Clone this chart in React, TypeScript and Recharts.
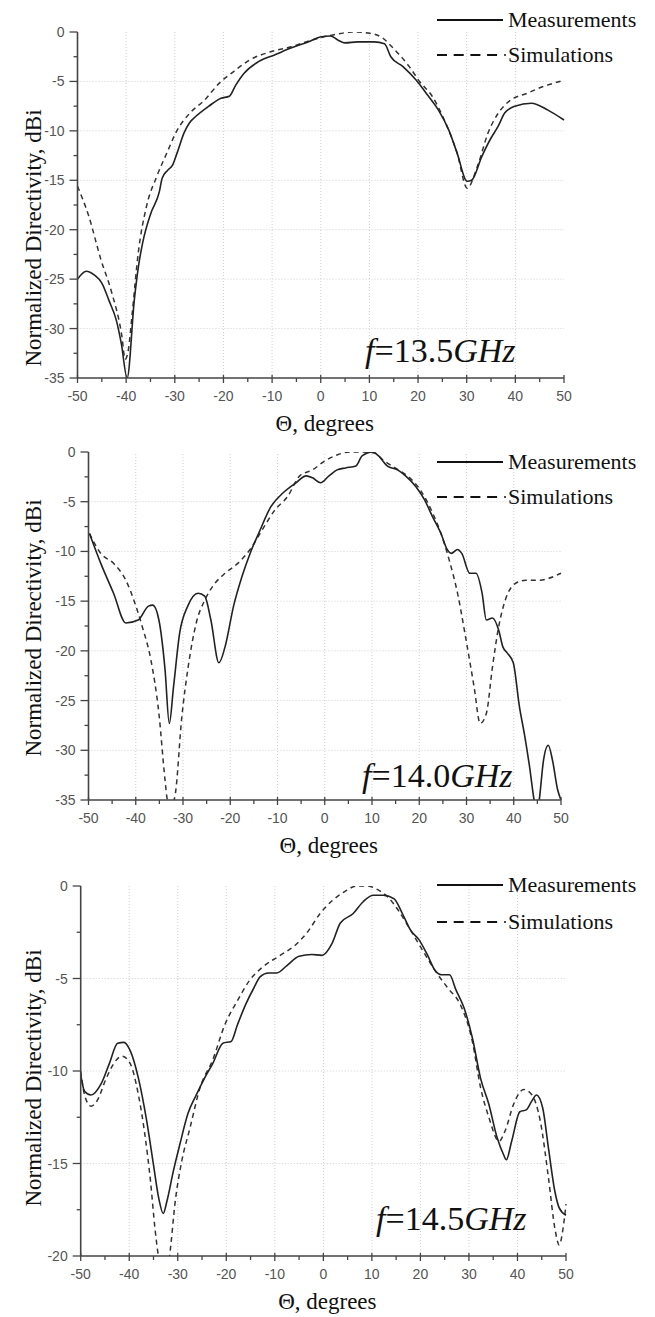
import { LineChart, Line, XAxis, YAxis, ReferenceLine } from 'recharts';

type Pt = [number, number];

// theta axis (degrees)
const thetaTicks = [-50, -45, -40, -35, -30, -25, -20, -15, -10, -5, 0, 5, 10, 15, 20, 25, 30, 35, 40, 45, 50];
const thetaMajor = [-50, -40, -30, -20, -10, 0, 10, 20, 30, 40, 50];
const thetaGrid = [-40, -30, -20, -10, 0, 10, 20, 30, 40];

// directivity axis (dBi)
const dirTicks35 = [0, -2.5, -5, -7.5, -10, -12.5, -15, -17.5, -20, -22.5, -25, -27.5, -30, -32.5, -35];
const dirMajor35 = [0, -5, -10, -15, -20, -25, -30, -35];
const dirGrid35 = [-5, -10, -15, -20, -25, -30];
const dirTicks20 = [0, -2.5, -5, -7.5, -10, -12.5, -15, -17.5, -20];
const dirMajor20 = [0, -5, -10, -15, -20];
const dirGrid20 = [-5, -10, -15];

// f = 13.5 GHz
const meas135: Pt[] = [
  [-50, -25.0], [-48.2, -24.2], [-46.5, -24.6], [-45, -25.4], [-43.5, -27.2], [-42, -29.2], [-41, -31.5],
  [-39.8, -35], [-38.3, -27.0], [-37.5, -23.8], [-36.6, -21.3], [-34.9, -18.3], [-33.2, -16.2], [-32.6, -14.8],
  [-31.5, -14.0], [-30.5, -13.5], [-29.5, -12.2], [-28.1, -10.2], [-27, -9.2], [-25.6, -8.5], [-23, -7.5],
  [-20.5, -6.7], [-18.8, -6.5], [-17.5, -5.4], [-15.8, -4.2], [-12.8, -3.0], [-9.4, -2.3], [-6, -1.6],
  [-2.6, -1.0], [-0.1, -0.5], [2, -0.4], [3.5, -0.8], [5, -1.1], [7.6, -1.0], [11, -1.0], [13.1, -1.2],
  [14.4, -2.5], [16.9, -3.5], [19.5, -4.8], [22, -6.4], [24.2, -7.9], [26.3, -9.9], [28, -12.2], [30.1, -15.1],
  [31, -15.0], [33.1, -12.6], [34.8, -10.9], [36.5, -9.5], [37.8, -8.2], [39.9, -7.5], [43.3, -7.2],
  [46.7, -7.9], [50, -8.9],
];
const sim135: Pt[] = [
  [-50, -15.6], [-47.7, -18.6], [-45.2, -23.0], [-43, -26.3], [-40.9, -30.7], [-40.2, -33.1], [-39.5, -32],
  [-38.8, -28.7], [-37.5, -22.3], [-35.8, -17.6], [-33.7, -14.6], [-31.6, -12.2], [-29.8, -10.2], [-26.9, -8.2],
  [-23.9, -6.9], [-20.9, -5.2], [-17.9, -4.0], [-14.5, -2.8], [-10.3, -2.0], [-6.1, -1.5], [-1.8, -0.8],
  [2.5, -0.3], [6.7, 0], [9.7, -0.1], [12.7, -0.6], [15.2, -1.8], [18.2, -3.5], [20.3, -5.0], [22.9, -6.5],
  [25.4, -8.9], [28, -12.2], [30.1, -15.8], [32.2, -13.6], [34.4, -10.2], [36.5, -8.2], [39, -6.9],
  [42.4, -6.2], [45.8, -5.5], [50, -4.9],
];

// f = 14.0 GHz
const meas140: Pt[] = [
  [-49.8, -8.2], [-47.4, -11.2], [-44.7, -14.2], [-42.1, -17.2], [-39.5, -16.9], [-37.3, -15.5], [-36.4, -15.4],
  [-35.1, -16.9], [-33.8, -21.9], [-32.9, -27.3], [-32, -23.6], [-30.7, -18.2], [-29, -15.5], [-26.8, -14.2],
  [-25.4, -14.5], [-24.1, -16.9], [-22.4, -21.2], [-21.1, -19.6], [-19.3, -15.5], [-17.5, -12.5], [-15.8, -10.2],
  [-14, -8.2], [-11.4, -5.5], [-8.8, -4.1], [-6.1, -3.1], [-3.9, -2.4], [-2.6, -2.6], [-0.9, -3.1], [0.9, -2.4],
  [2.6, -1.8], [4.4, -1.6], [6.6, -1.4], [7.9, -0.4], [10.1, 0], [11.4, -0.4], [13.2, -1.4], [15.4, -1.8],
  [17.1, -2.4], [19.3, -3.5], [21.1, -4.8], [22.8, -6.5], [24.6, -8.2], [25.9, -9.8], [26.8, -10.2], [28.1, -9.8],
  [29, -10.2], [30.7, -12.2], [32, -12.2], [33.3, -14.2], [34.2, -16.9], [35.5, -16.7], [36.8, -17.9],
  [37.7, -19.6], [38.6, -20.2], [39.9, -21.2], [41.2, -25.6], [42.3, -28.5], [43.3, -31.5], [44.3, -35],
  [44.9, -36.5], [45.4, -35], [46.3, -31], [47.3, -29.5], [48.2, -31], [49.3, -34], [50, -35],
];
const sim140: Pt[] = [
  [-49.8, -8.2], [-47.4, -10.2], [-44.7, -11.2], [-42.1, -12.9], [-40.4, -14.9], [-38.6, -17.6], [-36.8, -20.9],
  [-35.1, -26.3], [-33.8, -33], [-33.3, -35], [-32.6, -35.6], [-32, -35.2], [-31.6, -34.3], [-30.3, -26.9],
  [-28.9, -21.6], [-27.2, -17.2], [-25.4, -14.9], [-23.7, -13.5], [-21.1, -12.2], [-18.4, -11.2], [-15.8, -9.8],
  [-13.2, -7.8], [-10.5, -5.8], [-7.9, -4.5], [-5.3, -2.4], [-2.6, -1.8], [0, -0.9], [2.6, -0.3], [5.3, 0],
  [7.9, 0], [10.5, -0.1], [12.3, -0.8], [14.9, -1.6], [17.5, -2.4], [20.2, -3.8], [22.8, -6.1], [24.6, -8.2],
  [26.3, -10.8], [28.1, -14.2], [29.8, -18.6], [31.6, -23.6], [32.9, -27.3], [34.2, -26.3], [35.5, -21.6],
  [36.8, -17.6], [38.2, -14.9], [40.4, -13.2], [42.5, -12.9], [45.6, -12.9], [47.4, -12.7], [50, -12.2],
];

// f = 14.5 GHz
const meas145: Pt[] = [
  [-50, -10.2], [-49.2, -11.1], [-47.9, -11.3], [-45.8, -10.7], [-44.1, -9.6], [-42.4, -8.5], [-41.1, -8.45],
  [-39.8, -8.9], [-38.1, -10.4], [-36.4, -12.7], [-35.1, -14.9], [-33.9, -16.9], [-33, -17.7], [-32.2, -17.0],
  [-30.9, -15.4], [-29.6, -14.0], [-27.9, -12.3], [-26.2, -11.3], [-24.5, -10.4], [-22.8, -9.6], [-20.7, -8.5],
  [-19, -8.4], [-17.7, -7.5], [-16, -6.4], [-14.3, -5.5], [-13, -4.9], [-11.3, -4.7], [-9.6, -4.7], [-7.5, -4.3],
  [-5, -3.8], [-2.4, -3.7], [-0.3, -3.75], [1.8, -3.1], [3.5, -2.0], [6.1, -1.5], [8.2, -0.85], [10.3, -0.5],
  [12.4, -0.5], [14.6, -0.7], [16.3, -1.5], [18, -2.4], [19.7, -2.9], [21.4, -3.7], [23.1, -4.6], [24.3, -4.8],
  [26, -4.8], [27.3, -5.6], [29, -6.6], [30.7, -8.2], [32.4, -10.4], [34.1, -11.8], [35.8, -13.6], [37.1, -14.5],
  [37.7, -14.8], [38.8, -13.8], [40.5, -12.2], [41.8, -12.1], [43, -11.6], [43.9, -11.3], [45.2, -12.0],
  [46.4, -14.2], [47.7, -16.5], [48.6, -17.4], [50, -17.8],
];
const sim145: Pt[] = [
  [-50, -10.0], [-49.2, -11.3], [-47.9, -11.9], [-46.6, -11.6], [-44.9, -10.5], [-43.2, -9.6], [-41.5, -9.2],
  [-39.8, -9.6], [-38.1, -11.3], [-36.8, -13.4], [-35.6, -16.0], [-34.7, -18.5], [-34, -20], [-33, -21.3],
  [-31.7, -20], [-30.5, -17.0], [-29.2, -14.9], [-27.5, -13.1], [-25.4, -10.9], [-22.8, -9.4], [-20.3, -7.5],
  [-17.7, -6.2], [-15.2, -5.1], [-12.6, -4.4], [-9.2, -3.8], [-5.8, -3.2], [-3.3, -2.5], [-0.7, -1.5],
  [1.8, -0.8], [4.4, -0.3], [6.9, 0], [9, 0], [11.2, -0.2], [13.3, -0.6], [15.4, -1.3], [18, -2.4], [20.5, -3.5],
  [23.1, -4.6], [25.6, -5.5], [28.2, -6.4], [30.7, -8.4], [32.4, -10.9], [34.1, -12.5], [36.2, -13.8],
  [37.5, -13.2], [39.2, -11.8], [41.3, -11.0], [43, -11.3], [44.7, -12.7], [46.4, -15.8], [47.7, -18.5],
  [48.6, -19.4], [49.4, -18.5], [50, -17.2],
];

const toRows = (pts: Pt[]) => pts.map(([t, v]) => ({ t, v }));

const SANS = '"Liberation Sans", Arial, sans-serif';
const SERIF = '"Liberation Serif", "Times New Roman", serif';
const AXIS = '#444';

function XTick(props: any) {
  const { x, y, payload } = props;
  const major = thetaMajor.includes(payload.value);
  return (
    <g>
      <line x1={x} x2={x} y1={major ? y - 3 : y} y2={major ? y + 5 : y + 4} stroke={AXIS} strokeWidth={1.3} />
      {major && (
        <text x={x} y={y + 23} textAnchor="middle" fontSize={14} fill="#555" fontFamily={SANS}>
          {payload.value}
        </text>
      )}
    </g>
  );
}

function makeYTick(majors: number[]) {
  return (props: any) => {
    const { x, y, payload } = props;
    const major = majors.includes(payload.value);
    return (
      <g>
        <line x1={x - (major ? 8 : 4)} x2={x} y1={y} y2={y} stroke={AXIS} strokeWidth={1.3} />
        {major && (
          <text x={x - 13} y={y + 5} textAnchor="end" fontSize={14} fill="#555" fontFamily={SANS}>
            {payload.value}
          </text>
        )}
      </g>
    );
  };
}

type PanelProps = {
  top: number;
  height: number;
  margin: { top: number; left: number; right: number; bottom: number };
  meas: Pt[];
  sim: Pt[];
  yMin: number;
  yTicks: number[];
  yMajor: number[];
  yGrid: number[];
};

function Panel({ top, height, margin, meas, sim, yMin, yTicks, yMajor, yGrid }: PanelProps) {
  return (
    <div style={{ position: 'absolute', left: 0, top }}>
      <LineChart width={655} height={height} margin={margin}>
        <XAxis
          type="number"
          dataKey="t"
          domain={[-50, 50]}
          ticks={thetaTicks}
          interval={0}
          height={1}
          tickSize={0}
          tickMargin={0}
          tick={<XTick />}
          axisLine={{ stroke: AXIS, strokeWidth: 1.6 }}
        />
        <YAxis
          type="number"
          dataKey="v"
          domain={[yMin, 0]}
          allowDataOverflow
          ticks={yTicks}
          interval={0}
          width={1}
          tickSize={0}
          tickMargin={0}
          tick={makeYTick(yMajor)}
          axisLine={{ stroke: AXIS, strokeWidth: 1.6 }}
        />
        {thetaGrid.map((g) => (
          <ReferenceLine key={'vx' + g} x={g} stroke="#cfcfcf" strokeDasharray="1 2" />
        ))}
        {yGrid.map((g) => (
          <ReferenceLine key={'hy' + g} y={g} stroke="#cfcfcf" strokeDasharray="1 2" />
        ))}
        <Line
          data={toRows(sim)}
          dataKey="v"
          type="monotone"
          stroke="#333"
          strokeWidth={1.5}
          strokeDasharray="5 4"
          dot={false}
          isAnimationActive={false}
        />
        <Line
          data={toRows(meas)}
          dataKey="v"
          type="monotone"
          stroke="#222"
          strokeWidth={1.6}
          dot={false}
          isAnimationActive={false}
        />
      </LineChart>
    </div>
  );
}

function LegendBlock({ y1, y2 }: { y1: number; y2: number }) {
  return (
    <g fontFamily={SERIF} fontSize={22} fill="#111">
      <line x1={437} x2={503} y1={y1} y2={y1} stroke="#111" strokeWidth={2} />
      <text x={508} y={y1 + 7}>Measurements</text>
      <line x1={437} x2={503} y1={y2} y2={y2} stroke="#111" strokeWidth={2} strokeDasharray="10 6.7" />
      <circle cx={505} cy={y2} r={1} fill="#111" />
      <text x={508} y={y2 + 7}>Simulations</text>
    </g>
  );
}

function FreqLabel({ x, y, value }: { x: number; y: number; value: string }) {
  return (
    <text x={x} y={y} fontFamily={SERIF} fontSize={34} fill="#111">
      <tspan fontStyle="italic">f</tspan>
      <tspan>={value}</tspan>
      <tspan fontStyle="italic">GHz</tspan>
    </text>
  );
}

function AxisTitles({ plotLeft, plotRight, axisY, yCenter }: { plotLeft: number; plotRight: number; axisY: number; yCenter: number }) {
  return (
    <g fontFamily={SERIF} fontSize={23} fill="#111">
      <text x={(plotLeft + plotRight) / 2 + 4} y={axisY + 53} textAnchor="middle">Θ, degrees</text>
      <text x={33} y={yCenter} textAnchor="middle" dominantBaseline="central" transform={`rotate(-90, 33, ${yCenter})`}>
        Normalized Directivity, dBi
      </text>
    </g>
  );
}

export default function App() {
  return (
    <div style={{ position: 'absolute', left: 0, top: 0, width: 655, height: 1317, background: '#fff', overflow: 'hidden' }}>
      <Panel
        top={0}
        height={440}
        margin={{ top: 32, left: 76.5, right: 91, bottom: 61 }}
        meas={meas135}
        sim={sim135}
        yMin={-35}
        yTicks={dirTicks35}
        yMajor={dirMajor35}
        yGrid={dirGrid35}
      />
      <Panel
        top={440}
        height={430}
        margin={{ top: 12, left: 87.5, right: 94, bottom: 69 }}
        meas={meas140}
        sim={sim140}
        yMin={-35}
        yTicks={dirTicks35}
        yMajor={dirMajor35}
        yGrid={dirGrid35}
      />
      <Panel
        top={870}
        height={447}
        margin={{ top: 16, left: 79.7, right: 89, bottom: 60 }}
        meas={meas145}
        sim={sim145}
        yMin={-20}
        yTicks={dirTicks20}
        yMajor={dirMajor20}
        yGrid={dirGrid20}
      />
      <svg width={655} height={1317} style={{ position: 'absolute', left: 0, top: 0, pointerEvents: 'none' }}>
        <LegendBlock y1={20} y2={55} />
        <LegendBlock y1={462} y2={497} />
        <LegendBlock y1={885} y2={922} />
        <FreqLabel x={365} y={362} value="13.5" />
        <FreqLabel x={362} y={787} value="14.0" />
        <FreqLabel x={376} y={1230} value="14.5" />
        <AxisTitles plotLeft={77.5} plotRight={564} axisY={378} yCenter={238} />
        <AxisTitles plotLeft={88.5} plotRight={561} axisY={800} yCenter={628} />
        <AxisTitles plotLeft={80.7} plotRight={566} axisY={1256} yCenter={1078} />
      </svg>
    </div>
  );
}
